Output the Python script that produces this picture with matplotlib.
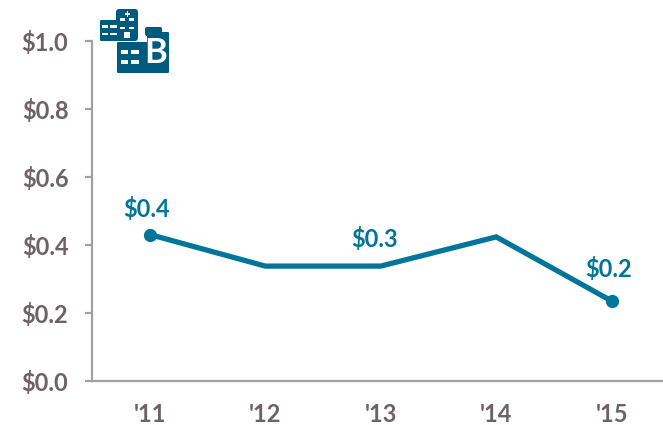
import matplotlib
matplotlib.use("Agg")
import matplotlib.pyplot as plt
from matplotlib.patches import Rectangle, FancyBboxPatch

years = ["'11", "'12", "'13", "'14", "'15"]
values = [0.43, 0.337, 0.337, 0.423, 0.234]
yticks = [0.0, 0.2, 0.4, 0.6, 0.8, 1.0]
# which points get a marker and a label, and the label text
labelled = {0: "$0.4", 2: "$0.3", 4: "$0.2"}
marked = [0, 4]

BLUE = "#00759a"
ICON = "#005a7d"
GREY = "#6e6265"
AXIS = "#a5a0a0"

plt.rcParams["font.family"] = ["Lato", "DejaVu Sans"]

W, H = 663, 425
fig = plt.figure(figsize=(W / 100, H / 100), dpi=100)
left, right, top, bottom = 92, 663, 41, 380.5
ax = fig.add_axes([left / W, 1 - bottom / H, (right - left) / W, (bottom - top) / H])

x = list(range(len(years)))
ax.plot(x, values, color=BLUE, lw=3.8, solid_capstyle="round", solid_joinstyle="miter", clip_on=False)
ax.plot([x[i] for i in marked], [values[i] for i in marked], "o", color=BLUE, ms=8.5, clip_on=False)
# label offsets from the point, in pixels
offsets = {0: (-3, 26), 2: (-6, 27), 4: (-3, 32)}
for i, txt in labelled.items():
    dx, dy = offsets[i]
    ax.annotate(txt.replace("$", r"\$"), (x[i], values[i]), xytext=(dx * 0.72, dy * 0.72),
                textcoords="offset points", ha="center", va="center",
                color=BLUE, fontsize=17, fontweight="bold")

ax.set_xlim(-0.5, -0.5 + (right - left) / 115.5)
ax.set_ylim(0, 1.0)
ax.set_xticks(x)
ax.set_xticklabels(years, fontweight="bold")
ax.set_yticks(yticks)
ax.set_yticklabels([f"\\${v:.1f}" for v in yticks], fontweight="bold")
ax.tick_params(axis="y", length=5, width=1.6, color=AXIS, labelcolor=GREY, labelsize=17, pad=12)
ax.tick_params(axis="x", length=0, labelcolor=GREY, labelsize=17, pad=16.5)
for s in ("top", "right"):
    ax.spines[s].set_visible(False)
for s in ("left", "bottom"):
    ax.spines[s].set_color(AXIS)
    ax.spines[s].set_linewidth(1.6)

# hospital icon, overlay axes in pixel coordinates
ic = fig.add_axes([0, 0, 1, 1], zorder=5)
ic.set_xlim(0, W)
ic.set_ylim(H, 0)
ic.axis("off")


def box(x0, y0, x1, y1, color=ICON, r=1.2):
    ic.add_patch(FancyBboxPatch((x0 + r, y0 + r), x1 - x0 - 2 * r, y1 - y0 - 2 * r,
                                boxstyle=f"round,pad={r},rounding_size={r}", fc=color, ec="none"))


def rect(x0, y0, x1, y1, color="white"):
    ic.add_patch(Rectangle((x0, y0), x1 - x0, y1 - y0, fc=color, ec="none"))


# small building
box(116, 9, 138, 41, r=3)
box(100, 20, 120, 41)
rect(126.5, 11, 128, 16.5)
rect(124.5, 13, 130, 14.5)
for y in (18, 26.5):
    rect(120, y, 125, y + 2.5)
    rect(129, y, 134, y + 2.5)
for y in (25, 32.5):
    rect(102, y, 108, y + 2.5)
    rect(110, y, 117, y + 2.5)
rect(124, 32, 130, 38)
# big building
box(117, 42, 150, 73)
box(145, 27, 162, 36, r=2)
box(147, 32, 169, 73)
for y in (50, 60):
    rect(121, y, 128, y + 3.5)
    rect(131, y, 139, y + 3.5)
ic.text(155.5, 52.5, "B", color="white", fontsize=25, ha="center", va="center", fontweight="bold")

fig.savefig("out.png", dpi=100)
